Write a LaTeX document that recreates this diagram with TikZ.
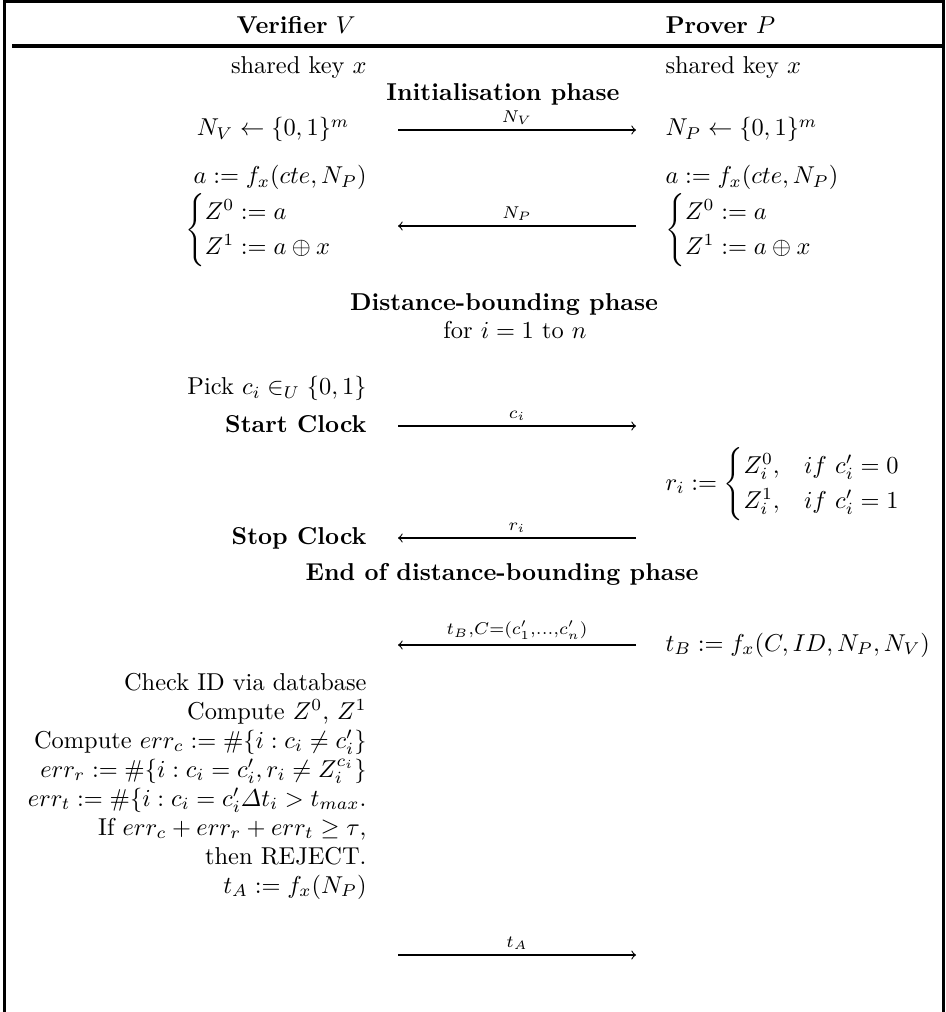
\documentclass[tikz,border=0pt]{standalone}
\usepackage{amsmath,amssymb}
\usepackage{tikz}

\begin{document}
\begin{tikzpicture}[x=0.4098pt,y=-0.4098pt,
  vtx/.style={anchor=base east,inner sep=0pt},
  ptx/.style={anchor=base west,inner sep=0pt},
  hdr/.style={anchor=base,inner sep=0pt},
  msg/.style={->,line width=0.45pt},
  lbl/.style={above=2pt,inner sep=0pt},
  frame/.style={line width=1.3pt}]
\useasboundingbox (0,0) rectangle (945,1012);
% frame and header rule
\draw[frame] (4.3,1012) -- (4.3,1.3) -- (943.7,1.3) -- (943.7,1012);
\draw[frame] (12,46) -- (945,46);
% header
\node[vtx] (vhead) at (356,34) {\textbf{Verifier} $V$};
\node[ptx] (phead) at (665,34) {\textbf{Prover} $P$};
% initialisation
\node[vtx] (vkey) at (367,74) {shared key $x$};
\node[ptx] (pkey) at (665,74) {shared key $x$};
\node[hdr] (init) at (503,101) {\textbf{Initialisation phase}};
\node[vtx] (vnonce) at (350,136) {$N_V \leftarrow \{0,1\}^m$};
\node[ptx] (pnonce) at (665,136) {$N_P \leftarrow \{0,1\}^m$};
\node[vtx] (va) at (367,184) {$a := f_x(cte, N_P)$};
\node[ptx] (pa) at (665,184) {$a := f_x(cte, N_P)$};
\node[vtx] (vz) at (358,236) {$\begin{cases} Z^0 := a\\ Z^1 := a\oplus x \end{cases}$};
\node[ptx] (pz) at (665,236) {$\begin{cases} Z^0 := a\\ Z^1 := a\oplus x \end{cases}$};
\coordinate (nvs) at (398,130);
\coordinate (nve) at (636,130);
\draw[msg] (nvs) -- node[lbl] {$\scriptstyle N_V$} (nve);
\coordinate (nps) at (636,226);
\coordinate (npe) at (398,226);
\draw[msg] (nps) -- node[lbl] {$\scriptstyle N_P$} (npe);
% distance-bounding
\node[hdr] (dbp) at (504,311) {\textbf{Distance-bounding phase}};
\node[hdr] (loop) at (515,339) {for $i=1$ to $n$};
\node[vtx] (pick) at (367,395) {Pick $c_i \in_U \{0,1\}$};
\node[vtx] (start) at (367,432) {\textbf{Start Clock}};
\coordinate (cs) at (398,426);
\coordinate (ce) at (636,426);
\draw[msg] (cs) -- node[lbl] {$\scriptstyle c_i$} (ce);
\node[ptx] (resp) at (665,490) {$r_i := \begin{cases} Z_i^0, & if\ c_i'=0\\ Z_i^1, & if\ c_i'=1 \end{cases}$};
\node[vtx] (stop) at (367,544) {\textbf{Stop Clock}};
\coordinate (rs) at (636,538);
\coordinate (re) at (398,538);
\draw[msg] (rs) -- node[lbl] {$\scriptstyle r_i$} (re);
\node[hdr] (edb) at (502,580) {\textbf{End of distance-bounding phase}};
% final phase
\node[ptx] (tb) at (665,651) {$t_B := f_x(C, ID, N_P, N_V)$};
\coordinate (tbs) at (636,645);
\coordinate (tbe) at (398,645);
\draw[msg] (tbs) -- node[lbl] {$\scriptstyle t_B,C=(c_1',\ldots,c_n')$} (tbe);
\node[vtx] (chk) at (367,690) {Check ID via database};
\node[vtx] (cz) at (367,719) {Compute $Z^0$, $Z^1$};
\node[vtx] (ec) at (367,748) {Compute $err_c := \#\{i : c_i \neq c_i'\}$};
\node[vtx] (er) at (367,777) {$err_r := \#\{i : c_i = c_i', r_i \neq Z_i^{c_i}\}$};
\node[vtx] (et) at (367,806) {$err_t := \#\{i : c_i = c_i' \varDelta t_i > t_{max}.$};
\node[vtx] (dec) at (367,835) {If $err_c + err_r + err_t \geq \tau$,};
\node[vtx] (rej) at (367,864) {then REJECT.};
\node[vtx] (ta) at (367,893) {$t_A := f_x(N_P)$};
\coordinate (tas) at (398,955);
\coordinate (tae) at (636,955);
\draw[msg] (tas) -- node[lbl] {$\scriptstyle t_A$} (tae);
\end{tikzpicture}
\end{document}
